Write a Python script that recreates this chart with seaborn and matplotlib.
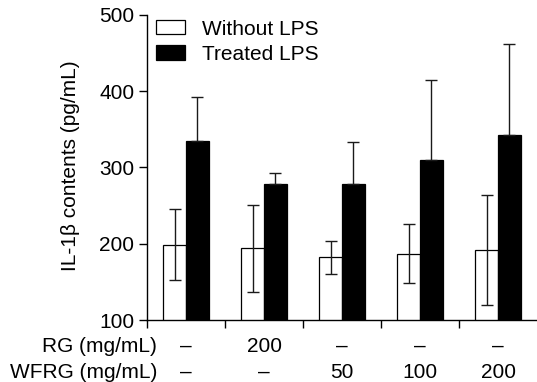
import matplotlib
matplotlib.use("Agg")
import matplotlib.pyplot as plt
import seaborn as sns
import pandas as pd
import numpy as np

conditions = ["Control", "RG 200", "WFRG 50", "WFRG 100", "WFRG 200"]
without_lps = [199, 194, 182, 187, 192]
without_err = [46, 57, 22, 39, 72]
treated_lps = [335, 279, 279, 310, 342]
treated_err = [57, 14, 55, 105, 120]
rg_labels = ["–", "200", "–", "–", "–"]
wfrg_labels = ["–", "–", "50", "100", "200"]
series = ["Without LPS", "Treated LPS"]

sns.set_theme(style="ticks")
plt.rcParams['font.family'] = ['Liberation Sans', 'DejaVu Sans']
plt.rcParams.update({"text.color": "black", "axes.labelcolor": "black",
                     "xtick.color": "black", "ytick.color": "black"})

FS = 15

df = pd.DataFrame({
    "condition": conditions * 2,
    "value": without_lps + treated_lps,
    "treatment": [series[0]] * 5 + [series[1]] * 5,
})

fig = plt.figure(figsize=(5.37, 3.82), dpi=100)
ax = fig.add_axes([147/537, 62/382, 390/537, 305/382])

sns.barplot(data=df, x="condition", y="value", hue="treatment",
            order=conditions, hue_order=series,
            palette=["white", "black"], edgecolor="black", linewidth=0.9,
            width=0.58, errorbar=None, ax=ax, saturation=1, zorder=2)

errs = [without_err, treated_err]
bar_containers = list(ax.containers)[:2]
for k, cont in enumerate(bar_containers):
    for bar, e in zip(cont, errs[k]):
        x = bar.get_x() + bar.get_width() / 2
        y = bar.get_height()
        if k == 0:
            yerr = [[e], [e]]
        else:
            yerr = [[0], [e]]
        ax.errorbar(x, y, yerr=yerr, fmt="none", ecolor="#1a1a1a",
                    elinewidth=1.0, capsize=4.3, capthick=1.0, zorder=3)

ax.set_ylim(100, 500)
ax.set_xlim(-0.5, 4.5)
ax.set_yticks([100, 200, 300, 400, 500])
ax.set_xticks([-0.5, 0.5, 1.5, 2.5, 3.5])
ax.set_xticklabels([])
ax.set_xlabel("")
ax.set_ylabel("")
ax.tick_params(axis="y", labelsize=FS, length=6, width=1, pad=3)
ax.tick_params(axis="x", length=6, width=1)
for s in ["top", "right"]:
    ax.spines[s].set_visible(False)
for s in ["left", "bottom"]:
    ax.spines[s].set_color("black")
    ax.spines[s].set_linewidth(1)

fig.text(70/537, 1 - 166/382, "IL-1β contents (pg/mL)", rotation=90,
         ha="center", va="center", fontsize=FS)

handles = [bar_containers[0][0], bar_containers[1][0]]
leg = ax.legend(handles, series, loc="upper left", bbox_to_anchor=(0.023, 0.985),
                frameon=False, fontsize=FS, handlelength=1.4, handleheight=0.67,
                handletextpad=0.8, labelspacing=0.3, borderaxespad=0, borderpad=0)

xt = ax.get_xaxis_transform()
for i, (r, w) in enumerate(zip(rg_labels, wfrg_labels)):
    ax.text(i, -(352 - 320) / 305, r, transform=xt, ha="center", va="baseline", fontsize=FS)
    ax.text(i, -(378 - 320) / 305, w, transform=xt, ha="center", va="baseline", fontsize=FS)
fig.text(157/537, 1 - 352/382, "RG (mg/mL)", ha="right", va="baseline", fontsize=FS)
fig.text(157/537, 1 - 378/382, "WFRG (mg/mL)", ha="right", va="baseline", fontsize=FS)

fig.savefig("out.png", dpi=100)
